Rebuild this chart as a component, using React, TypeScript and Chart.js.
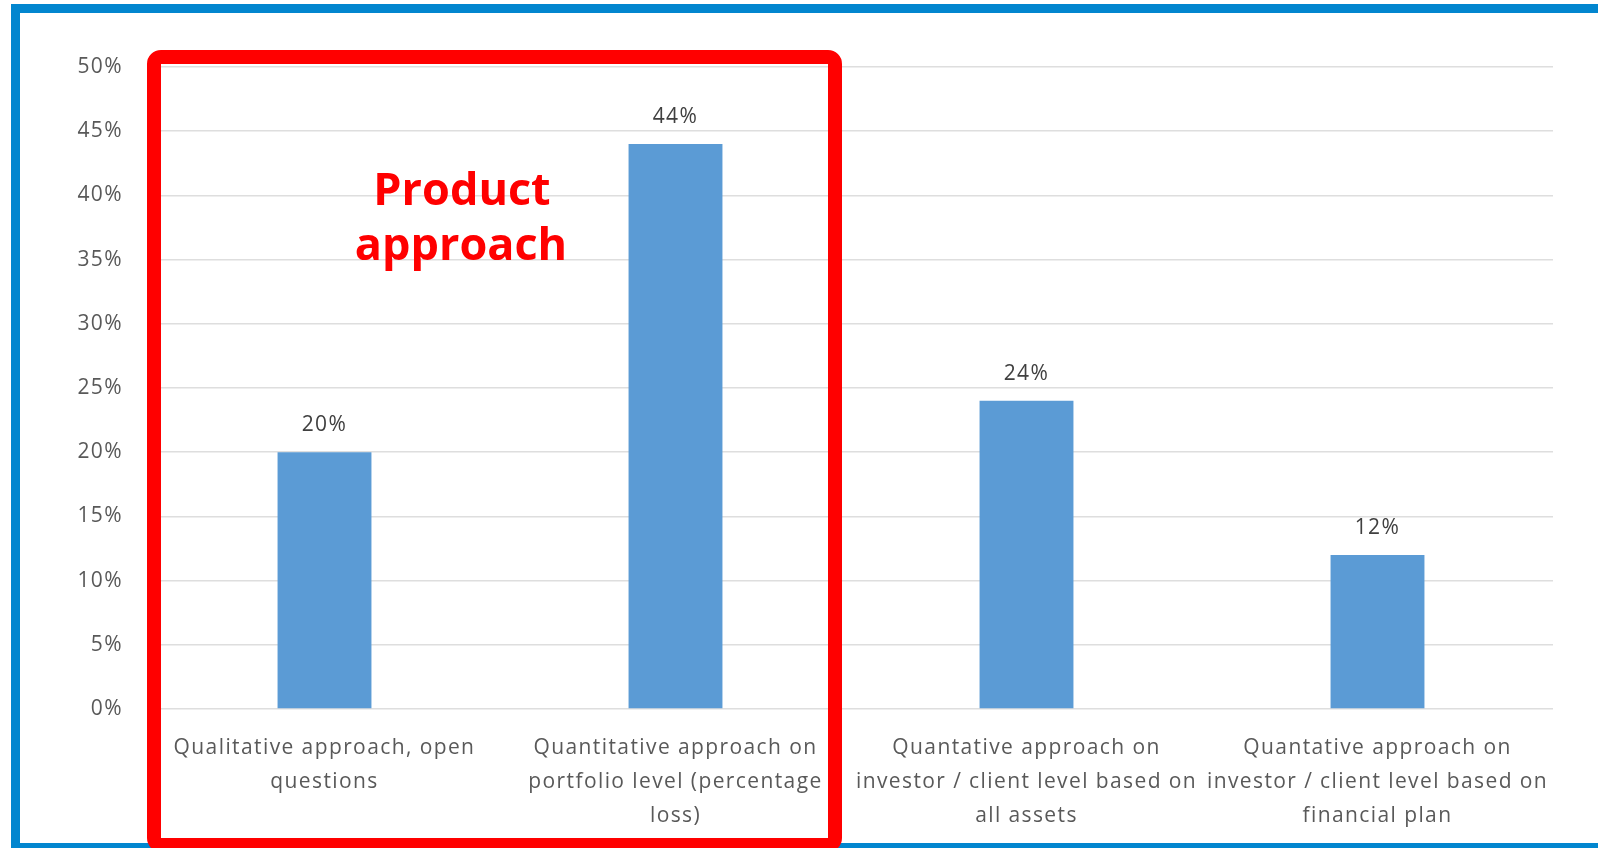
import React, { useEffect, useRef } from "react";
import { Chart, registerables } from "chart.js";

Chart.register(...registerables);

const categories: string[][] = [
  ["Qualitative approach, open", "questions"],
  ["Quantitative approach on", "portfolio level (percentage", "loss)"],
  ["Quantative approach on", "investor / client level based on", "all assets"],
  ["Quantative approach on", "investor / client level based on", "financial plan"],
];
const values: number[] = [20, 44, 24, 12];
const yTicks: number[] = [0, 5, 10, 15, 20, 25, 30, 35, 40, 45, 50];
const annotationLines: string[] = ["Product", "approach"];

const W = 1598;
const H = 848;
const FONT = "'Open Sans', 'Noto Sans', sans-serif";
const SPACING = "1.4px";

const spacingPlugin = {
  id: "spacing",
  beforeLayout(chart: any) {
    (chart.ctx as any).letterSpacing = SPACING;
  },
  beforeDraw(chart: any) {
    (chart.ctx as any).letterSpacing = SPACING;
  },
};

const overlayPlugin = {
  id: "overlay",
  afterDatasetsDraw(chart: any) {
    const ctx = chart.ctx as CanvasRenderingContext2D;
    const meta = chart.getDatasetMeta(0);
    ctx.save();
    (ctx as any).letterSpacing = SPACING;
    ctx.fillStyle = "#404040";
    ctx.font = `21px ${FONT}`;
    ctx.textAlign = "center";
    ctx.textBaseline = "alphabetic";
    meta.data.forEach((bar: any, i: number) => {
      ctx.fillText(`${values[i]}%`, bar.x, bar.y - 21);
    });
    ctx.restore();
  },
  afterDraw(chart: any) {
    const ctx = chart.ctx as CanvasRenderingContext2D;
    ctx.save();
    (ctx as any).letterSpacing = "0px";
    // blue frame
    ctx.strokeStyle = "#0286cf";
    ctx.lineWidth = 9;
    ctx.strokeRect(15.5, 8.5, 1700, 839);
    // red box
    ctx.strokeStyle = "#ff0000";
    ctx.lineWidth = 14;
    ctx.beginPath();
    (ctx as any).roundRect(154, 57, 681, 788, 7);
    ctx.stroke();
    // annotation text
    ctx.fillStyle = "#ff0000";
    ctx.font = `bold 45px ${FONT}`;
    ctx.textAlign = "center";
    ctx.textBaseline = "alphabetic";
    ctx.fillText(annotationLines[0], 462, 205);
    ctx.fillText(annotationLines[1], 461, 260);
    ctx.restore();
  },
};

export default function App() {
  const ref = useRef<HTMLCanvasElement | null>(null);
  useEffect(() => {
    if (!ref.current) return;
    const chart = new Chart(ref.current, {
      type: "bar",
      data: {
        labels: categories,
        datasets: [
          {
            data: values,
            backgroundColor: "#5b9bd5",
            barPercentage: 0.535,
            categoryPercentage: 0.5,
          },
        ],
      },
      options: {
        animation: false,
        responsive: false,
        devicePixelRatio: 1,
        layout: { padding: { left: 0, right: 45, top: 67, bottom: 0 } },
        plugins: { legend: { display: false }, tooltip: { enabled: false } },
        scales: {
          x: {
            grid: { display: false },
            border: { display: false },
            ticks: {
              color: "#595959",
              font: { family: FONT, size: 21, lineHeight: 1.62 },
              padding: 14,
              maxRotation: 0,
              autoSkip: false,
            },
            afterFit(scale: any) {
              scale.height = H - 709;
            },
          },
          y: {
            min: 0,
            max: 50,
            afterBuildTicks(scale: any) {
              scale.ticks = yTicks.map((v) => ({ value: v }));
            },
            grid: { color: "#dedede", lineWidth: 1.5, drawTicks: false },
            border: { display: false },
            ticks: {
              color: "#595959",
              font: { family: FONT, size: 21 },
              padding: 26,
              callback: (v: any) => `${v}%`,
            },
            afterFit(scale: any) {
              scale.width = 149;
            },
          },
        },
      },
      plugins: [spacingPlugin, overlayPlugin],
    });
    return () => chart.destroy();
  }, []);
  return (
    <div style={{ position: "fixed", left: 0, top: 0, width: W, height: H, background: "#ffffff" }}>
      <canvas ref={ref} width={W} height={H} style={{ display: "block", width: W, height: H }} />
    </div>
  );
}
